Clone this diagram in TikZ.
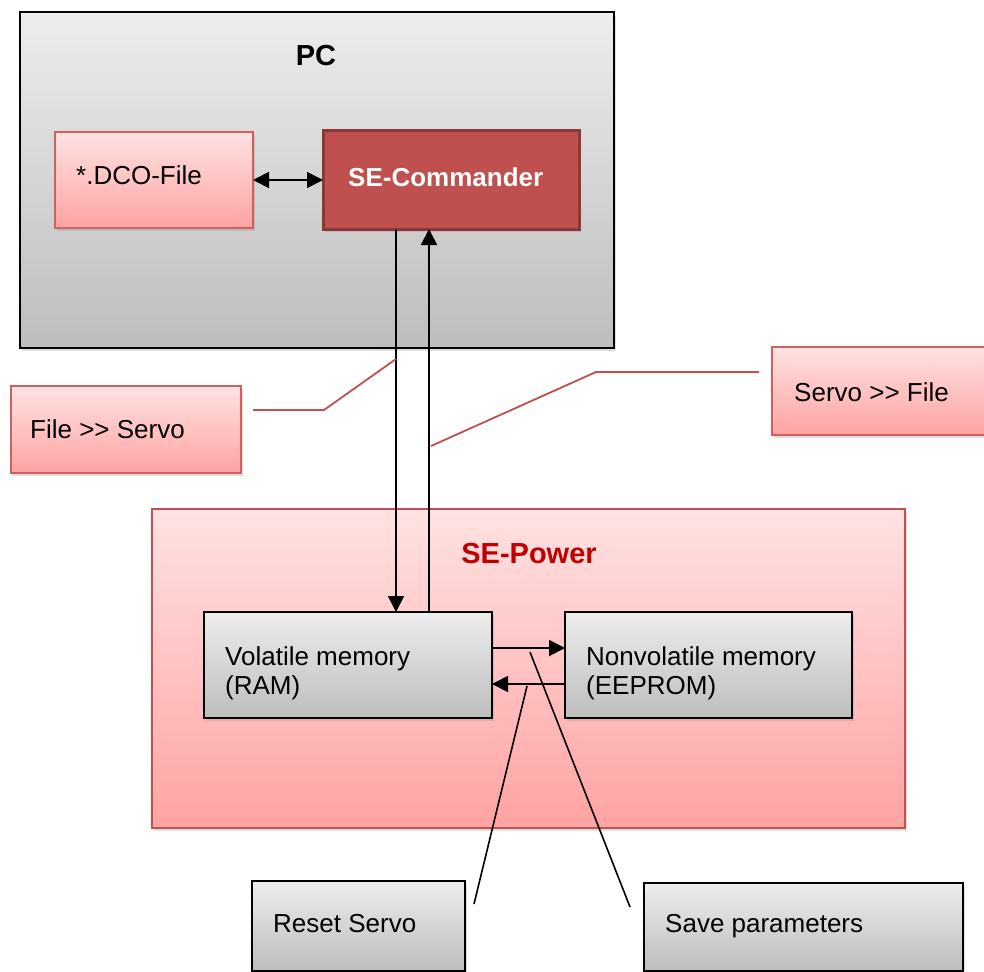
\documentclass[tikz,border=0pt]{standalone}
\usepackage{fontspec}
\setmainfont{Liberation Sans}
\usetikzlibrary{arrows.meta,shadows}
\definecolor{pinkTop}{HTML}{FFE2E2}
\definecolor{pinkBot}{HTML}{FFA3A3}
\definecolor{pinkLine}{HTML}{D0605E}
\definecolor{grayTop}{HTML}{EDEDED}
\definecolor{grayBot}{HTML}{BDBDBD}
\definecolor{cmdFill}{HTML}{C0504D}
\definecolor{cmdLine}{HTML}{8C3836}
\definecolor{powerText}{HTML}{C00000}
\definecolor{calloutRed}{HTML}{C0504D}
\tikzset{
  base/.style={inner sep=0pt, outer sep=0pt,
    drop shadow={opacity=0.25, shadow xshift=2pt, shadow yshift=-3pt}},
  pinkbox/.style={base, draw=pinkLine, line width=1.5pt, top color=pinkTop, bottom color=pinkBot},
  graybox/.style={base, draw=black, line width=1.8pt, top color=grayTop, bottom color=grayBot},
  cmdbox/.style={base, draw=cmdLine, line width=3pt, fill=cmdFill},
  label/.style={inner sep=0pt, anchor=west, align=left, font=\fontsize{26}{29}\selectfont},
  cmdlabel/.style={label, text=white, font=\fontsize{26}{29}\selectfont\bfseries},
  title/.style={font=\fontsize{29}{33}\selectfont\bfseries, inner sep=0pt},
  flow/.style={line width=1.9pt, -{Triangle[length=16pt,width=16pt]}},
  dflow/.style={line width=1.9pt, {Triangle[length=16pt,width=16pt]}-{Triangle[length=16pt,width=16pt]}},
  redcall/.style={draw=calloutRed, line width=1.8pt},
  blackcall/.style={draw=black, line width=1.6pt},
}
\begin{document}
\begin{tikzpicture}[x=1pt,y=-1pt]
\useasboundingbox (0,0) rectangle (984,971);
\clip (0,0) rectangle (984,971);
% PC container
\node[graybox, minimum width=594pt, minimum height=336pt] (pc) at (317,180) {};
\node[title] (pcT) at (316,56) {PC};
% PC contents
\node[pinkbox, minimum width=198pt, minimum height=96pt] (dco) at (154,180) {};
\node[label] (dcoT) at (76,175) {*.DCO-File};
\node[cmdbox, minimum width=256pt, minimum height=99pt] (sec) at (451,179.5) {};
\node[cmdlabel] (secT) at (348,177) {SE-Commander};
\draw[dflow] (dco.east |- 0,180) -- (sec.west |- 0,180);
% SE-Power container
\node[pinkbox, draw=calloutRed, line width=1.2pt, minimum width=753pt, minimum height=319pt] (sep) at (528.5,668.5) {};
\node[title, text=powerText] (sepT) at (529,554) {SE-Power};
\node[graybox, minimum width=288pt, minimum height=106pt] (ram) at (348,665) {};
\node[label] (ramT) at (225,673) {Volatile memory\\(RAM)};
\node[graybox, minimum width=287pt, minimum height=106pt] (eep) at (708.5,665) {};
\node[label] (eepT) at (586,673) {Nonvolatile memory\\(EEPROM)};
% vertical links
\coordinate (dnx) at (396,0);
\coordinate (upx) at (429,0);
\draw[flow] (sec.south -| dnx) -- (ram.north -| dnx);
\draw[flow] (ram.north -| upx) -- (sec.south -| upx);
% memory links
\coordinate (toE) at (0,648);
\coordinate (toR) at (0,684);
\draw[flow] (ram.east |- toE) -- (eep.west |- toE);
\draw[flow] (eep.west |- toR) -- (ram.east |- toR);
% callout boxes
\node[pinkbox, minimum width=230pt, minimum height=87pt] (fs) at (126,429.5) {};
\node[label] (fsT) at (30,429) {File >{}> Servo};
\node[pinkbox, minimum width=228pt, minimum height=88pt] (sf) at (886,391) {};
\node[label] (sfT) at (794,392) {Servo >{}> File};
\node[graybox, minimum width=213pt, minimum height=90pt] (rs) at (358.5,926) {};
\node[label] (rsT) at (273,924) {Reset Servo};
\node[graybox, minimum width=319pt, minimum height=88pt] (sp) at (803.5,927) {};
\node[label] (spT) at (665,926) {Save parameters};
% callout lines
\coordinate (fsA) at (253,410);
\coordinate (fsB) at (324,410);
\coordinate (fsC) at (396,359);
\draw[redcall] (fsA) -- (fsB) -- (fsC);
\coordinate (sfA) at (759,372);
\coordinate (sfB) at (596,372);
\coordinate (sfC) at (431,446);
\draw[redcall] (sfA) -- (sfB) -- (sfC);
\coordinate (rsA) at (474,904);
\coordinate (rsB) at (527,686);
\draw[blackcall] (rsA) -- (rsB);
\coordinate (spA) at (630,907);
\coordinate (spB) at (530,652);
\draw[blackcall] (spA) -- (spB);
\end{tikzpicture}
\end{document}
